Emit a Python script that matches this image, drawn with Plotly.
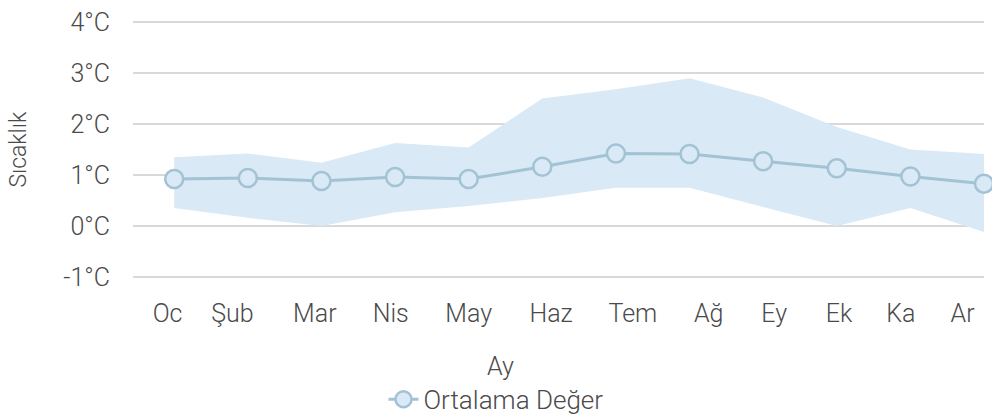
import plotly.graph_objects as go

# Monthly temperature data
months = ["Oc", "Şub", "Mar", "Nis", "May", "Haz", "Tem", "Ağ", "Ey", "Ek", "Ka", "Ar"]
mean_temp = [0.92, 0.94, 0.88, 0.96, 0.92, 1.16, 1.42, 1.41, 1.27, 1.13, 0.97, 0.83]
upper_temp = [1.35, 1.42, 1.24, 1.63, 1.54, 2.50, 2.68, 2.90, 2.52, 1.94, 1.50, 1.41]
lower_temp = [0.35, 0.16, 0.00, 0.27, 0.39, 0.55, 0.75, 0.75, 0.37, 0.00, 0.35, -0.12]

y_tick_values = [-1, 0, 1, 2, 3, 4]
y_tick_labels = ["-1°C", "0°C", "1°C", "2°C", "3°C", "4°C"]

# where the month labels sit along the x axis
month_label_pos = [-0.09, 0.79, 1.91, 2.94, 4.00, 5.12, 6.23, 7.26, 8.15, 9.03, 9.87, 10.71]

x = list(range(len(months)))

FONT = "Roboto"
SIZE = 25
WEIGHT = 300
TEXT = "#4a4a4a"
LINE = "#a3c3d4"
BAND = "#d9e9f5"


def font(size=SIZE):
    return dict(family=FONT, size=size, color=TEXT, weight=WEIGHT)


fig = go.Figure()

fig.add_trace(go.Scatter(
    x=x, y=lower_temp, mode="lines", line=dict(width=0, color=BAND),
    showlegend=False, hoverinfo="skip",
))
fig.add_trace(go.Scatter(
    x=x, y=upper_temp, mode="lines", line=dict(width=0, color=BAND),
    fill="tonexty", fillcolor=BAND, showlegend=False, hoverinfo="skip",
))
fig.add_trace(go.Scatter(
    x=x, y=mean_temp, mode="lines+markers", name="Ortalama Değer",
    line=dict(color=LINE, width=3),
    marker=dict(size=18, color=BAND, line=dict(color=LINE, width=2.5)),
    cliponaxis=False,
))

fig.update_layout(
    width=992, height=416,
    margin=dict(l=133, r=8, t=17, b=134),
    paper_bgcolor="white", plot_bgcolor="white",
    font=font(),
    showlegend=True,
    legend=dict(
        orientation="h", xref="container", yref="container",
        x=0.5, xanchor="center", y=0.04, yanchor="middle",
        font=font(SIZE + 1),
        itemwidth=30,
    ),
    xaxis=dict(
        range=[-0.56, 11.0],
        tickmode="array", tickvals=month_label_pos, ticktext=months,
        showgrid=False, zeroline=False, showline=False,
        ticks="", ticklabelstandoff=14,
        tickfont=font(),
    ),
    yaxis=dict(
        range=[-1.1, 4.1],
        tickmode="array", tickvals=y_tick_values, ticktext=y_tick_labels,
        showgrid=True, gridcolor="#d9d9d9", gridwidth=2,
        zeroline=False, showline=False, ticks="", ticklabelstandoff=22,
        tickfont=font(),
    ),
    annotations=[
        dict(text="Ay", xref="paper", yref="paper",
             x=(500 - 133) / 851, y=-0.32, xanchor="center", yanchor="middle",
             showarrow=False, font=font()),
        dict(text="Sıcaklık", xref="paper", yref="paper",
             x=-0.135, y=0.5, xanchor="center", yanchor="middle", textangle=-90,
             showarrow=False, font=font(SIZE - 2)),
    ],
)

fig.write_html("out.html")
